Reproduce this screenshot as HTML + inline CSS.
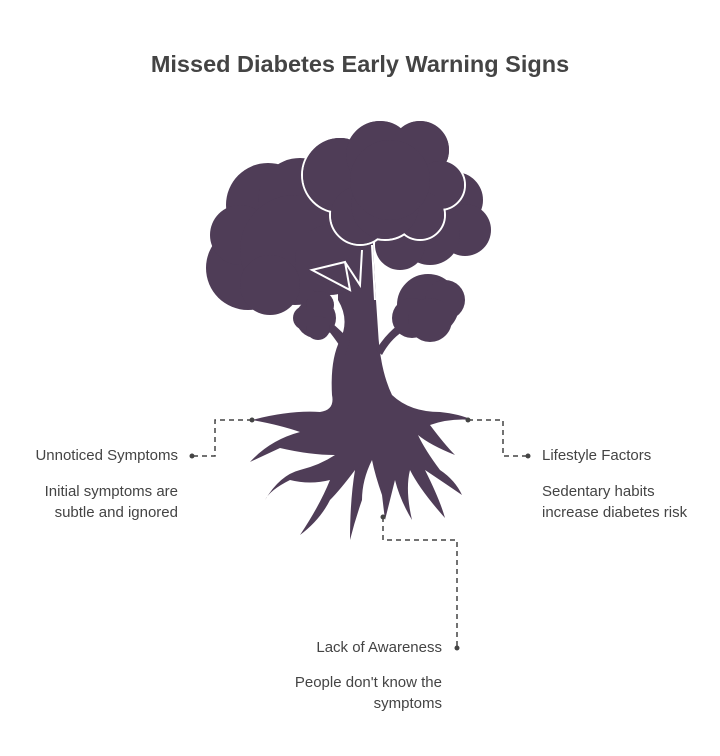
<!DOCTYPE html>
<html><head><style>
body{margin:0;width:720px;height:756px;background:#fff;font-family:"Liberation Sans",sans-serif;overflow:hidden}
.t{position:absolute;color:#444;font-size:15px}
</style></head><body>
<div style="position:absolute;top:51px;left:0;width:720px;text-align:center;font-size:23.5px;font-weight:bold;color:#444">Missed Diabetes Early Warning Signs</div>
<svg width="720" height="756" style="position:absolute;left:0;top:0">
<g fill="#4f3d57">
<path d="M338,240 L372,225 L376,300 L378,330 Q380,370 392,395 Q410,412 440,412 Q460,414 472,420 Q450,418 430,425 Q445,445 455,455 Q430,445 418,435 Q425,450 440,470 Q455,480 462,495 Q440,480 425,470 Q440,500 445,518 Q420,490 410,470 Q405,490 412,520 Q400,500 395,480 Q390,500 385,520 L382,495 Q375,475 372,460 Q362,480 362,500 Q355,520 350,540 Q350,500 355,470 Q340,490 330,500 Q320,520 300,535 Q320,505 330,480 Q310,485 290,480 Q270,490 265,500 Q280,475 300,470 Q320,465 335,455 Q310,455 280,448 Q265,455 250,462 Q270,440 300,432 Q280,425 252,420 Q290,410 320,412 Q335,410 332,395 Q330,360 340,340 Q350,320 338,300 Z"/>
<path d="M328,330 Q340,345 345,355 L350,340 Q340,330 332,323Z"/>
<path d="M376,350 Q385,335 398,325 L402,332 Q390,340 382,355Z"/>
<circle cx="248" cy="268" r="42"/>
<circle cx="268" cy="205" r="42"/>
<circle cx="240" cy="235" r="30"/>
<circle cx="300" cy="200" r="42"/>
<circle cx="295" cy="250" r="55"/>
<circle cx="330" cy="260" r="35"/>
<circle cx="270" cy="285" r="30"/>
<circle cx="455" cy="200" r="28"/>
<circle cx="465" cy="230" r="26"/>
<circle cx="430" cy="235" r="30"/>
<circle cx="400" cy="245" r="25"/>
<circle cx="316" cy="318" r="20"/>
<circle cx="305" cy="318" r="12"/>
<circle cx="320" cy="305" r="14"/>
<circle cx="318" cy="328" r="12"/>
<circle cx="428" cy="305" r="32" stroke="#fff" stroke-width="2"/>
<circle cx="445" cy="300" r="20"/>
<circle cx="412" cy="318" r="20"/>
<circle cx="430" cy="320" r="22"/>
</g>
<path d="M312,270 L345,262 L350,290 Z M345,262 L360,285 L362,250 M372,245 L375,300" stroke="#fff" stroke-width="2" fill="none"/>
<g fill="#4f3d57" stroke="#fff" stroke-width="2">
<circle cx="340" cy="175" r="38"/>
<circle cx="380" cy="155" r="35"/>
<circle cx="420" cy="150" r="30"/>
<circle cx="440" cy="185" r="25"/>
<circle cx="420" cy="215" r="25"/>
<circle cx="360" cy="215" r="30"/>
<circle cx="385" cy="205" r="35"/>
</g>
<g fill="#4f3d57">
<circle cx="340" cy="175" r="37"/>
<circle cx="380" cy="155" r="34"/>
<circle cx="420" cy="150" r="29"/>
<circle cx="440" cy="185" r="24"/>
<circle cx="420" cy="215" r="24"/>
<circle cx="360" cy="215" r="29"/>
<circle cx="385" cy="205" r="34"/>
<circle cx="390" cy="180" r="40"/>
</g>
<g stroke="#444" stroke-width="1.5" fill="none" stroke-dasharray="5,4">
<path d="M252,420 H215 V456 H192"/>
<path d="M468,420 H503 V456 H528"/>
<path d="M383,517 V540 H457 V648"/>
</g>
<g fill="#444"><circle cx="252" cy="420" r="2.5"/><circle cx="192" cy="456" r="2.5"/><circle cx="468" cy="420" r="2.5"/><circle cx="528" cy="456" r="2.5"/><circle cx="383" cy="517" r="2.5"/><circle cx="457" cy="648" r="2.5"/></g>
</svg>
<div class="t" style="right:542px;top:447px">Unnoticed Symptoms</div>
<div class="t" style="right:542px;top:481px;text-align:right;line-height:21px">Initial symptoms are<br>subtle and ignored</div>
<div class="t" style="left:542px;top:447px">Lifestyle Factors</div>
<div class="t" style="left:542px;top:481px;line-height:21px">Sedentary habits<br>increase diabetes risk</div>
<div class="t" style="right:278px;top:639px">Lack of Awareness</div>
<div class="t" style="right:278px;top:672px;text-align:right;line-height:21px">People don't know the<br>symptoms</div>
</body></html>
